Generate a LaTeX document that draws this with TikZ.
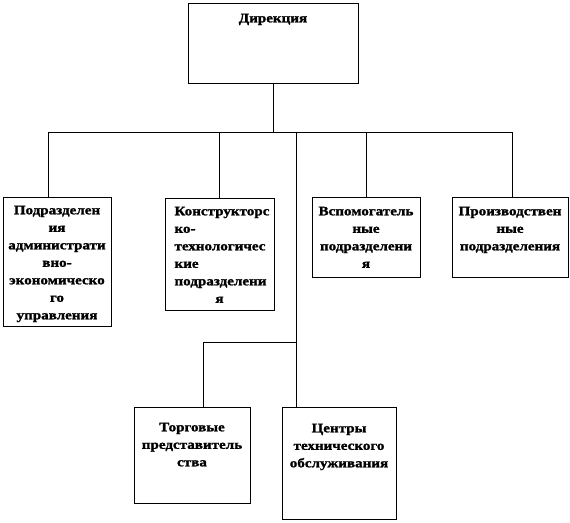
\documentclass[tikz,border=0pt]{standalone}
\usepackage{fontspec}
\setmainfont{Liberation Serif}[FakeStretch=1.16,BoldFeatures={FakeBold=1.5}]
\usetikzlibrary{positioning}
\tikzset{
 box/.style={draw,line width=0.8pt,inner sep=0pt},
 txt/.style={inner sep=0pt,align=center,font=\fontsize{13}{17.5}\selectfont\bfseries}
}
\begin{document}
\begin{tikzpicture}[x=1pt,y=-1pt]
 \useasboundingbox (0,0) rectangle (570,522);

 \node[box,minimum width=170pt,minimum height=80pt](0) at (273,43){};
 \node[box,minimum width=108pt,minimum height=129pt](1) at (57,261.5){};
 \node[box,minimum width=109pt,minimum height=112pt](2) at (219.5,254){};
 \node[box,minimum width=108pt,minimum height=80pt](3) at (366,237){};
 \node[box,minimum width=116pt,minimum height=80pt](4) at (510,237){};
 \node[box,minimum width=116pt,minimum height=96pt](5) at (192,455){};
 \node[box,minimum width=114pt,minimum height=112pt](6) at (339,463){};

 \node[txt,below=11pt of 0.north](t0){Дирекция};
 \node[txt,below=9pt of 1.north](t1){Подразделен\\ия\\администрати\\вно-\\экономическо\\го\\управления};
 \node[txt,below=9pt of 2.north,align=left,text width=90pt](t2){Конструкторс\\ко-\\технологичес\\кие\\подразделени\\\hbox to\hsize{\hss я\hss}};
 \node[txt,below=10pt of 3.north](t3){Вспомогатель\\ные\\подразделени\\я};
 \node[txt,below=10pt of 4.north](t4){Производствен\\ные\\подразделения};
 \node[txt,below=16pt of 5.north](t5){Торговые\\представитель\\ства};
 \node[txt,below=17pt of 6.north](t6){Центры\\технического\\обслуживания};

 \coordinate (b0) at (273,132);
 \coordinate (b1) at (48,132);
 \coordinate (b2) at (219.5,132);
 \coordinate (b3) at (366.5,132);
 \coordinate (b4) at (512,132);
 \coordinate (b6) at (296,132);
 \coordinate (m6) at (296,342);
 \coordinate (m5) at (203,342);

 \draw [line width=0.8pt] (0) -- (b0);
 \draw [line width=0.8pt] (b1) -- (b4);
 \draw [line width=0.8pt] (b1) -- (b1 |- 1.north);
 \draw [line width=0.8pt] (b2) -- (b2 |- 2.north);
 \draw [line width=0.8pt] (b3) -- (b3 |- 3.north);
 \draw [line width=0.8pt] (b4) -- (b4 |- 4.north);
 \draw [line width=0.8pt] (b6) -- (b6 |- 6.north);
 \draw [line width=0.8pt] (m6) -- (m5) -- (m5 |- 5.north);

\end{tikzpicture}
\end{document}
